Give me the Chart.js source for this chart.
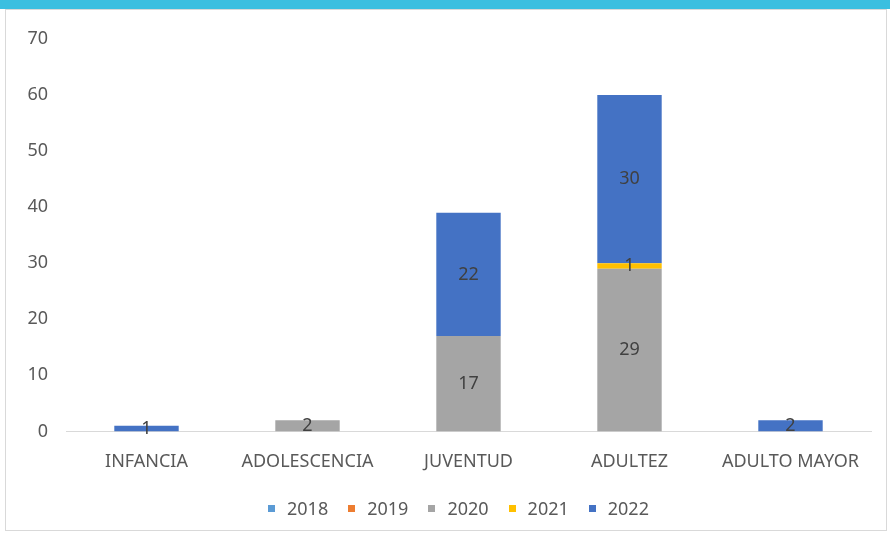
<!DOCTYPE html>
<html>
<head>
<meta charset="utf-8">
<script src="https://cdn.jsdelivr.net/npm/chart.js@4/dist/chart.umd.min.js"></script>
<style>
	html, body { margin: 0; padding: 0; background: #fff; }
	#wrap { position: relative; width: 890px; height: 535px; overflow: hidden; font-family: "Noto Sans", sans-serif; }
	#band { position: absolute; left: 0; top: 0; width: 890px; height: 9px; background: #3bbfe0; }
	#frame { position: absolute; left: 5px; top: 9px; width: 882px; height: 522px; border: 1px solid #d9d9d9; box-sizing: border-box; }
	#chart { position: absolute; left: 0; top: 0; }
	#legend { position: absolute; left: 0; top: 497px; width: 917px; display: flex; justify-content: center; }
	#legend .item { display: flex; align-items: center; margin: 0 10px; font-size: 18px; line-height: 22px; color: #595959; }
	#legend .box { width: 7px; height: 7px; margin-right: 12px; }
</style>
</head>
<body>
<div id="wrap">
	<div id="band"></div>
	<div id="frame"></div>
	<canvas id="chart" width="890" height="535"></canvas>
	<div id="legend"></div>
</div>
<script>
const categories = ['INFANCIA', 'ADOLESCENCIA', 'JUVENTUD', 'ADULTEZ', 'ADULTO MAYOR'];
const years = ['2018', '2019', '2020', '2021', '2022'];
const values2018 = [0, 0, 0, 0, 0];
const values2019 = [0, 0, 0, 0, 0];
const values2020 = [0, 2, 17, 29, 0];
const values2021 = [0, 0, 0, 1, 0];
const values2022 = [1, 0, 22, 30, 2];
const yTicks = [0, 10, 20, 30, 40, 50, 60, 70];

const colors = ['#5b9bd5', '#ed7d31', '#a5a5a5', '#ffc000', '#4472c4'];
const series = [values2018, values2019, values2020, values2021, values2022];

const fontFamily = '"Noto Sans", sans-serif';

// prints the value in the middle of each non-empty segment
const barValues = {
	id: 'barValues',
	afterDatasetsDraw(chart) {
		const ctx = chart.ctx;
		ctx.save();
		ctx.font = '18px ' + fontFamily;
		ctx.fillStyle = '#404040';
		ctx.textAlign = 'center';
		ctx.textBaseline = 'middle';
		chart.data.datasets.forEach((ds, i) => {
			chart.getDatasetMeta(i).data.forEach((bar, j) => {
				if (!ds.data[j]) return;
				const p = bar.getProps(['x', 'y', 'base'], true);
				ctx.fillText(ds.data[j], p.x, (p.y + p.base) / 2);
			});
		});
		ctx.restore();
	}
};

// html legend under the plot, built from the chart's own legend items
const htmlLegend = {
	id: 'htmlLegend',
	afterUpdate(chart) {
		const container = document.getElementById('legend');
		container.innerHTML = '';
		const items = chart.options.plugins.legend.labels.generateLabels(chart);
		for (let item of items) {
			const div = document.createElement('div');
			div.className = 'item';
			const box = document.createElement('span');
			box.className = 'box';
			box.style.background = item.fillStyle;
			div.appendChild(box);
			div.appendChild(document.createTextNode(item.text));
			container.appendChild(div);
		}
	}
};

new Chart(document.getElementById('chart'), {
	type: 'bar',
	data: {
		labels: categories,
		datasets: years.map((y, i) => ({
			label: y,
			data: series[i],
			backgroundColor: colors[i],
			borderWidth: 0,
			categoryPercentage: 1,
			barPercentage: 0.4,
		})),
	},
	options: {
		responsive: false,
		animation: false,
		layout: {
			padding: { left: 20, right: 19, top: 39, bottom: 42 },
		},
		scales: {
			x: {
				stacked: true,
				grid: { display: false, drawTicks: false },
				border: { display: true, color: '#d9d9d9', width: 1 },
				ticks: {
					color: '#595959',
					padding: 20,
					font: { family: fontFamily, size: 18 },
				},
			},
			y: {
				stacked: true,
				min: 0,
				max: 70,
				afterBuildTicks(axis) {
					axis.ticks = yTicks.map(v => ({ value: v }));
				},
				afterFit(axis) {
					axis.width = 46;
				},
				grid: { display: false, drawTicks: false },
				border: { display: false },
				ticks: {
					color: '#595959',
					padding: 18,
					font: { family: fontFamily, size: 18 },
				},
			},
		},
		plugins: {
			legend: { display: false },
			tooltip: { enabled: false },
		},
	},
	plugins: [barValues, htmlLegend],
});
</script>
</body>
</html>
